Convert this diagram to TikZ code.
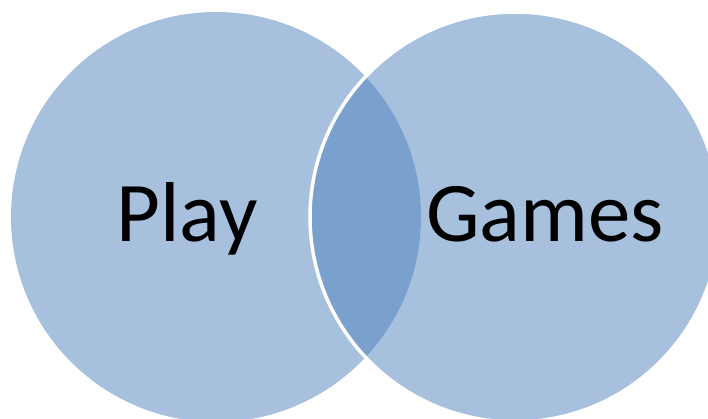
\documentclass[tikz,border=0pt]{standalone}
\usepackage{fontspec}
\setmainfont{Carlito}
\usepackage{xcolor}
\definecolor{accentblue}{HTML}{4F81BD}

\tikzset{
  setlabel/.style={anchor=base,inner sep=0pt,text=black,font=\fontsize{85}{85}\selectfont},
}

\begin{document}
\begin{tikzpicture}[x=1pt,y=-1pt]
\useasboundingbox (0,0) rectangle (708,419);
\clip (0,0) rectangle (708,419);
\fill[accentblue,fill opacity=0.5] (216,217) circle[radius=205pt];
\filldraw[fill=accentblue,fill opacity=0.5,draw=white,line width=3.5pt] (515,217) circle[radius=205pt];
\node[setlabel] (play) at (187,242) {Play};
\node[setlabel] (games) at (545,242) {Games};
\end{tikzpicture}
\end{document}
